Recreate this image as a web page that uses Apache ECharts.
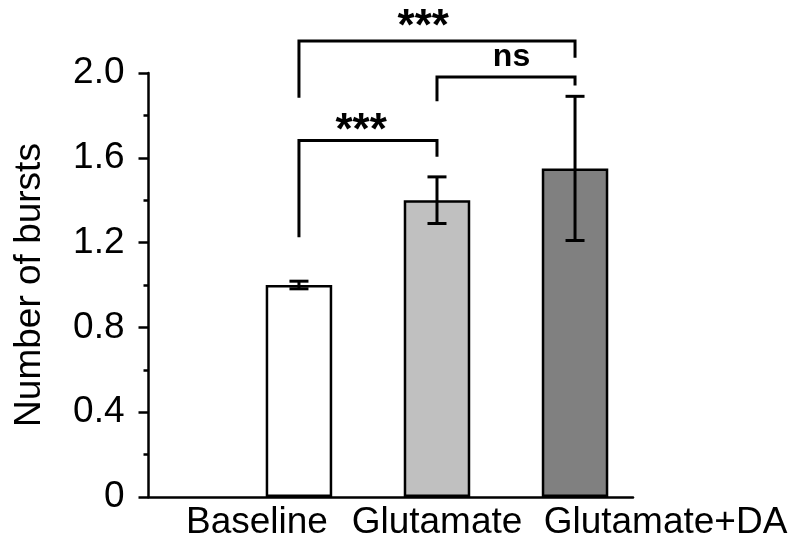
<!DOCTYPE html>
<html><head><meta charset="utf-8">
<script src="https://cdn.jsdelivr.net/npm/echarts@6/dist/echarts.min.js"></script>
<style>html,body{margin:0;padding:0;background:#fff}#c{width:800px;height:548px}</style>
</head><body><div id="c"></div>
<script>
// ---- data ----
const categories = ['Baseline', 'Glutamate', 'Glutamate+DA'];
const means = [1.00, 1.40, 1.55];
const errors = [0.018, 0.11, 0.34];
const yTickValues = [0, 0.4, 0.8, 1.2, 1.6, 2.0];
// significance brackets (x in category index units 1..3, y in data units)
const bracketFrom = [1, 2, 1];
const bracketTo = [2, 3, 3];
const bracketTop = [1.682, 1.981, 2.151];
const bracketLeftEnd = [1.225, 1.867, 1.883];
const bracketRightEnd = [1.605, 1.941, 2.072];
const bracketLabels = ['***', 'ns', '***'];
const bracketLabelX = [1.45, 2.54, 1.90];
const bracketLabelY = [1.722, 2.074, 2.215];

// ---- styles ----
const barColors = ['#ffffff', '#c0c0c0', '#808080'];
const labelFontSizes = [44, 32, 44];
const FONT = '"Liberation Sans", Arial, Helvetica, sans-serif';
const FS = 37;

const chart = echarts.init(document.getElementById('c'), null, {renderer: 'canvas'});

const barData = means.map((m, i) => ({value: [i + 1, m], itemStyle: {color: barColors[i]}}));
const errData = means.map((m, i) => [i + 1, m, errors[i]]);
const brData = bracketFrom.map((f, i) => [f, bracketTo[i], bracketTop[i], bracketLeftEnd[i], bracketRightEnd[i], bracketLabelX[i], bracketLabelY[i], i]);

const option = {
  animation: false,
  backgroundColor: '#fff',
  grid: {left: 148.5, right: 167, top: 73, bottom: 51, containLabel: false},
  xAxis: {
    type: 'value', min: -0.09, max: 3.42,
    splitLine: {show: false},
    axisTick: {show: false},
    axisLine: {show: true, onZero: false, lineStyle: {color: '#000', width: 2.5}},
    axisLabel: {
      customValues: [1, 2, 3],
      margin: 7,
      color: '#000', fontSize: FS, fontFamily: FONT,
      formatter: function (v) { const i = Math.round(v) - 1; return '{c' + i + '|' + categories[i] + '}'; },
      rich: {
        c0: {fontSize: FS, fontFamily: FONT, color: '#000', padding: [0, 84, 0, 0]},
        c1: {fontSize: FS, fontFamily: FONT, color: '#000'},
        c2: {fontSize: FS, fontFamily: FONT, color: '#000', padding: [0, 0, 0, 181]}
      }
    }
  },
  yAxis: {
    type: 'value', min: 0, max: 2.0, interval: 0.4,
    name: 'Number of bursts', nameLocation: 'middle', nameGap: 100, nameRotate: 90,
    nameTextStyle: {fontSize: FS, color: '#000', fontFamily: FONT},
    splitLine: {show: false},
    axisLine: {show: true, onZero: false, lineStyle: {color: '#000', width: 2.5}},
    axisTick: {show: true, length: 10, inside: false, lineStyle: {color: '#000', width: 2.5}},
    minorTick: {show: true, splitNumber: 2, length: 5, lineStyle: {color: '#000', width: 2.5}},
    axisLabel: {
      margin: 24, color: '#000', fontSize: FS, fontFamily: FONT,
      formatter: function (v) { const t = yTickValues.find(x => Math.abs(x - v) < 1e-9); return t === 0 ? '0' : (t !== undefined ? t.toFixed(1) : ''); }
    }
  },
  series: [
    {
      type: 'bar', data: barData, barWidth: 66.5,
      itemStyle: {borderColor: '#000', borderWidth: 2.5},
      z: 2
    },
    {
      type: 'custom', data: errData, z: 5, clip: false,
      renderItem: function (params, api) {
        const x = api.value(0), m = api.value(1), e = api.value(2);
        const t = api.coord([x, m + e]), b = api.coord([x, m - e]);
        const hw = 9.5, st = {stroke: '#000', lineWidth: 3};
        return {type: 'group', children: [
          {type: 'line', shape: {x1: t[0], y1: t[1], x2: b[0], y2: b[1]}, style: st},
          {type: 'line', shape: {x1: t[0] - hw, y1: t[1], x2: t[0] + hw, y2: t[1]}, style: st},
          {type: 'line', shape: {x1: b[0] - hw, y1: b[1], x2: b[0] + hw, y2: b[1]}, style: st}
        ]};
      }
    },
    {
      type: 'custom', data: brData, z: 6, clip: false,
      renderItem: function (params, api) {
        const x1 = api.value(0), x2 = api.value(1), yt = api.value(2), yl = api.value(3), yr = api.value(4);
        const lx = api.value(5), ly = api.value(6), idx = api.value(7);
        const p1 = api.coord([x1, yl]), p2 = api.coord([x1, yt]), p3 = api.coord([x2, yt]), p4 = api.coord([x2, yr]);
        const lp = api.coord([lx, ly]);
        return {type: 'group', children: [
          {type: 'polyline', shape: {points: [p1, p2, p3, p4]}, style: {stroke: '#000', lineWidth: 3, fill: null}},
          {type: 'text', x: lp[0], y: lp[1], style: {text: bracketLabels[idx], fontSize: labelFontSizes[idx], fontWeight: 'bold', fontFamily: FONT, fill: '#000', align: 'center', verticalAlign: 'middle'}}
        ]};
      }
    }
  ]
};
chart.setOption(option);
</script>
</body></html>
